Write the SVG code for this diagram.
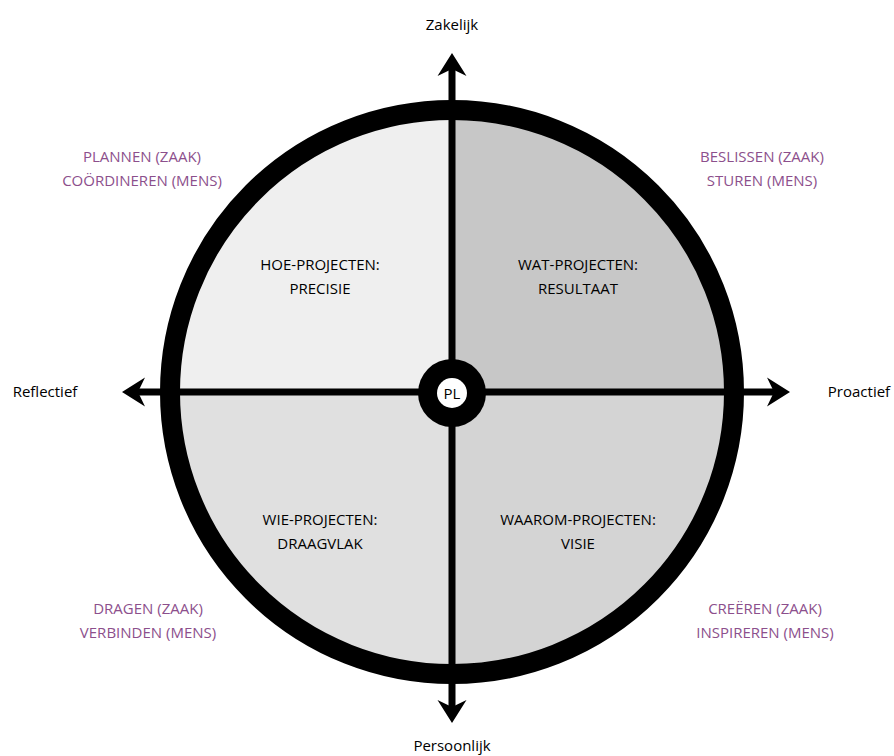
<svg xmlns="http://www.w3.org/2000/svg" width="894" height="756" viewBox="0 0 894 756">
  <style>
    text { font-family: "Open Sans", "Noto Sans", "DejaVu Sans", sans-serif; font-size: 15px; text-anchor: middle; }
    .axis-label { fill: #000; }
    .role { fill: #8c4f8c; }
    .quad { fill: #000; }
    .axis { stroke: #000; stroke-width: 7; fill: none; }
    .ring { fill: none; stroke: #000; stroke-width: 20; }
  </style>
  <defs>
    <marker id="head" markerUnits="userSpaceOnUse" viewBox="-26 -16 28 32" refX="-12" refY="0" markerWidth="28" markerHeight="32" orient="auto">
      <path d="M0,0 L-23,-14.5 L-16,0 L-23,14.5 Z" fill="#000"/>
    </marker>
  </defs>

  <rect width="894" height="756" fill="#fff"/>

  <!-- quadrants of the disc -->
  <g id="quadrants">
    <path id="q-hoe" d="M452,392 L170,392 A282,282 0 0 1 452,110 Z" fill="#efefef"/>
    <path id="q-wat" d="M452,392 L452,110 A282,282 0 0 1 734,392 Z" fill="#c7c7c7"/>
    <path id="q-wie" d="M452,392 L452,674 A282,282 0 0 1 170,392 Z" fill="#e0e0e0"/>
    <path id="q-waarom" d="M452,392 L734,392 A282,282 0 0 1 452,674 Z" fill="#d4d4d4"/>
  </g>

  <!-- outer ring -->
  <g id="ring">
    <circle cx="452" cy="392" r="282" class="ring"/>
  </g>

  <!-- axes with arrowheads -->
  <g id="connectors">
    <line x1="452" y1="392" x2="452" y2="65" class="axis" marker-end="url(#head)"/>
    <line x1="452" y1="392" x2="452" y2="711" class="axis" marker-end="url(#head)"/>
    <line x1="452" y1="392" x2="134" y2="392" class="axis" marker-end="url(#head)"/>
    <line x1="452" y1="392" x2="778" y2="392" class="axis" marker-end="url(#head)"/>
  </g>

  <!-- centre node -->
  <g id="pl">
    <circle cx="452" cy="393" r="34" fill="#000"/>
    <circle cx="452" cy="393" r="15" fill="#fff"/>
    <text x="452" y="398.5" class="axis-label">PL</text>
  </g>

  <!-- axis labels -->
  <g id="zakelijk"><text x="452" y="30" class="axis-label">Zakelijk</text></g>
  <g id="persoonlijk"><text x="452" y="751" class="axis-label">Persoonlijk</text></g>
  <g id="reflectief"><text x="45" y="397" class="axis-label">Reflectief</text></g>
  <g id="proactief"><text x="859" y="397" class="axis-label">Proactief</text></g>

  <!-- quadrant labels -->
  <g id="hoe">
    <text x="320" y="270" class="quad">HOE-PROJECTEN:</text>
    <text x="320" y="294" class="quad">PRECISIE</text>
  </g>
  <g id="wat">
    <text x="578" y="270" class="quad">WAT-PROJECTEN:</text>
    <text x="578" y="294" class="quad">RESULTAAT</text>
  </g>
  <g id="wie">
    <text x="320" y="525" class="quad">WIE-PROJECTEN:</text>
    <text x="320" y="549" class="quad">DRAAGVLAK</text>
  </g>
  <g id="waarom">
    <text x="578" y="525" class="quad">WAAROM-PROJECTEN:</text>
    <text x="578" y="549" class="quad">VISIE</text>
  </g>

  <!-- role labels in the corners -->
  <g id="plannen">
    <text x="142" y="162" class="role">PLANNEN (ZAAK)</text>
    <text x="142" y="186" class="role">COÖRDINEREN (MENS)</text>
  </g>
  <g id="beslissen">
    <text x="762" y="162" class="role">BESLISSEN (ZAAK)</text>
    <text x="762" y="186" class="role">STUREN (MENS)</text>
  </g>
  <g id="dragen">
    <text x="148" y="614" class="role">DRAGEN (ZAAK)</text>
    <text x="148" y="638" class="role">VERBINDEN (MENS)</text>
  </g>
  <g id="creeren">
    <text x="765" y="614" class="role">CREËREN (ZAAK)</text>
    <text x="765" y="638" class="role">INSPIREREN (MENS)</text>
  </g>
</svg>
